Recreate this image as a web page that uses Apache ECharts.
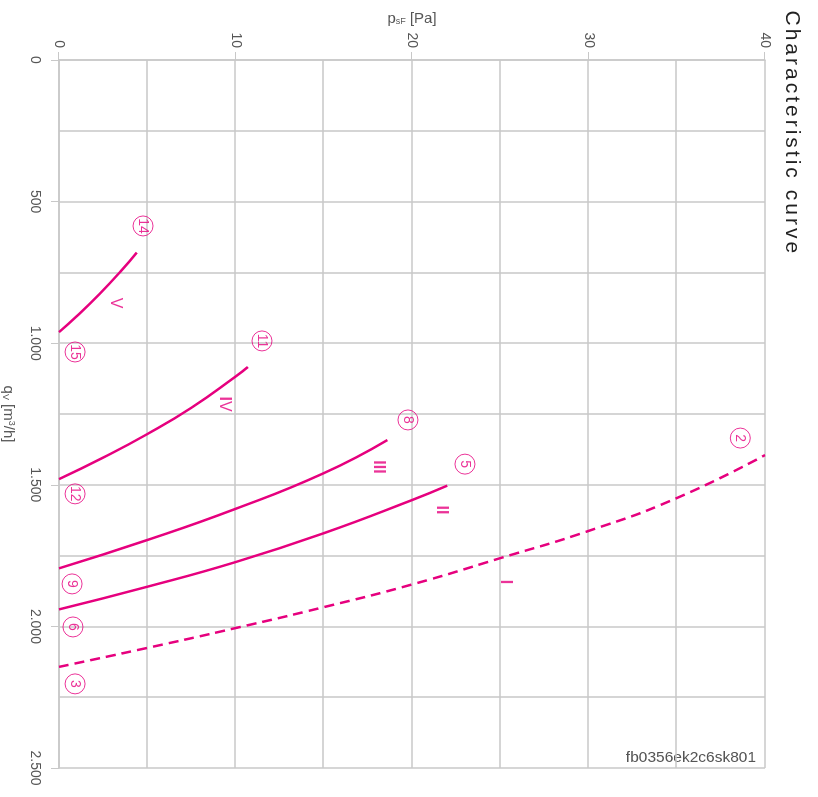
<!DOCTYPE html>
<html>
<head>
<meta charset="utf-8">
<script src="https://cdn.jsdelivr.net/npm/echarts@6/dist/echarts.min.js"></script>
<style>
html,body{margin:0;padding:0;background:#fff;overflow:hidden;}
#chart{position:absolute;left:0;top:0;width:797px;height:818px;transform-origin:0 0;transform:translate(818px,0) rotate(90deg);}
</style>
</head>
<body>
<div id="chart"></div>
<script>
// Characteristic curves: static pressure psF [Pa] vs. volume flow qV [m3/h]
var curveI_psF   = [0, 5, 10, 15, 20, 25, 30, 35, 40];
var curveI_qV    = [2143, 2076, 2006, 1932, 1852, 1759, 1663, 1547, 1395];
var curveII_psF  = [0, 5, 10, 15, 20, 22];
var curveII_qV   = [1940, 1860, 1773, 1671, 1554, 1503];
var curveIII_psF = [0, 5, 10, 15, 18.6];
var curveIII_qV  = [1795, 1695, 1585, 1459, 1342];
var curveIV_psF  = [0, 2.5, 5, 7.5, 10, 10.7];
var curveIV_qV   = [1480, 1404, 1321, 1228, 1118, 1084];
var curveV_psF   = [0, 1, 2.3, 3.5, 4.4];
var curveV_qV    = [961, 905, 826, 746, 680];

// point markers (circled numbers)
var markerText = ['14', '15', '11', '12', '8', '9', '5', '6', '2', '3'];
var markerPsF  = [4.76, 0.91, 11.5, 0.91, 19.77, 0.74, 23.0, 0.79, 38.6, 0.91];
var markerQV   = [586, 1031, 992, 1532, 1271, 1850, 1427, 2002, 1335, 2203];

// curve names (roman numerals)
var romanText = ['V', 'IV', 'III', 'II', 'I'];
var romanPsF  = [3.17, 9.35, 18.07, 21.64, 25.3];
var romanQV   = [858, 1215, 1437, 1589, 1843];

var qvTicks = [0, 500, 1000, 1500, 2000, 2500];
var psfTicks = [0, 10, 20, 30, 40];

var MAG = '#e6007e';
var GRID = '#c8c8c8';
var FONT = 'Liberation Sans, Arial, sans-serif';
var TITLE = 'Characteristic curve';

function pairs(q, p) { return q.map(function (v, i) { return [v, p[i]]; }); }
function fmtThousand(v) {
  var s = String(Math.round(v));
  return s.replace(/\B(?=(\d{3})+(?!\d))/g, '.');
}
function curve(q, p, dashed) {
  return {
    type: 'line', smooth: true, showSymbol: false, silent: true,
    data: pairs(q, p),
    lineStyle: { color: MAG, width: 2.5, type: dashed ? [10, 6] : 'solid' },
    z: 3
  };
}
function romanRich(t) {
  return t.split('').map(function (c) { return (c === 'I' ? '{b|' : '{n|') + c + '}'; }).join('');
}
// letter-spaced title built from rich segments
var titleRich = TITLE.split('').map(function (c) { return '{c|' + (c === ' ' ? '\u00a0' : c) + '}'; }).join('');

var chart = echarts.init(document.getElementById('chart'), null, { renderer: 'canvas' });
chart.setOption({
  animation: false,
  backgroundColor: '#fff',
  title: {
    text: titleRich, left: 4, top: 11,
    textStyle: {
      fontFamily: FONT, fontSize: 21, fontWeight: 'normal', color: '#222',
      rich: { c: { fontFamily: FONT, fontSize: 21, color: '#222', padding: [0, 1.5, 0, 1.5] } }
    }
  },
  grid: { left: 60, right: 29, top: 53, bottom: 59, containLabel: false, outerBoundsMode: 'none' },
  xAxis: {
    type: 'value', min: qvTicks[0], max: qvTicks[qvTicks.length - 1], interval: 500,
    name: '{q|q}{sub|V} [m{sup|3}/h]',
    nameLocation: 'middle', nameGap: 43,
    nameTextStyle: {
      fontFamily: FONT, fontSize: 15, color: '#555',
      rich: {
        q: { fontFamily: FONT, fontSize: 15, color: '#555' },
        sub: { fontFamily: FONT, fontSize: 9, color: '#555', verticalAlign: 'bottom', padding: [6, 0, 0, 0] },
        sup: { fontFamily: FONT, fontSize: 9, color: '#555', verticalAlign: 'top', padding: [0, 0, 6, 0] }
      }
    },
    axisLine: { show: true, lineStyle: { color: GRID, width: 1.5 } },
    axisTick: { show: true, length: 8, lineStyle: { color: GRID } },
    axisLabel: { margin: 17, fontFamily: FONT, fontSize: 14, color: '#555', formatter: fmtThousand },
    splitLine: { show: true, lineStyle: { color: GRID, width: 1.5 } },
    minorTick: { show: false, splitNumber: 2 },
    minorSplitLine: { show: true, lineStyle: { color: GRID, width: 1.5 } }
  },
  yAxis: {
    type: 'value', min: psfTicks[0], max: psfTicks[psfTicks.length - 1], interval: 10,
    name: '{p|p}{sub|sF} [Pa]',
    nameLocation: 'middle', nameGap: 34, nameRotate: 90, nameMoveOverlap: false,
    nameTextStyle: {
      fontFamily: FONT, fontSize: 15, color: '#555',
      rich: {
        p: { fontFamily: FONT, fontSize: 15, color: '#555' },
        sub: { fontFamily: FONT, fontSize: 9, color: '#555', verticalAlign: 'bottom', padding: [6, 0, 0, 0] }
      }
    },
    axisLine: { show: true, lineStyle: { color: GRID, width: 1.5 } },
    axisTick: { show: true, length: 8, lineStyle: { color: GRID } },
    axisLabel: { margin: 12, fontFamily: FONT, fontSize: 14, color: '#555' },
    splitLine: { show: true, lineStyle: { color: GRID, width: 1.5 } },
    minorTick: { show: false, splitNumber: 2 },
    minorSplitLine: { show: true, lineStyle: { color: GRID, width: 1.5 } }
  },
  graphic: [{
    type: 'text', left: 750, top: 62, rotation: Math.PI / 2,
    style: { text: 'fb0356ek2c6sk801', font: '15.5px ' + FONT, fill: '#555' }
  }],
  series: [
    curve(curveI_qV, curveI_psF, true),
    curve(curveII_qV, curveII_psF, false),
    curve(curveIII_qV, curveIII_psF, false),
    curve(curveIV_qV, curveIV_psF, false),
    curve(curveV_qV, curveV_psF, false),
    {
      type: 'scatter', silent: true, z: 4,
      symbol: 'circle', symbolSize: 20,
      itemStyle: { color: 'rgba(255,255,255,0)', borderColor: MAG, borderWidth: 1 },
      label: {
        show: true, position: 'inside', color: MAG, fontFamily: FONT, fontSize: 14,
        formatter: function (p) { return p.data[2]; }
      },
      data: markerText.map(function (t, i) { return [markerQV[i], markerPsF[i], t]; })
    },
    {
      type: 'scatter', silent: true, z: 4,
      symbol: 'circle', symbolSize: 1,
      itemStyle: { color: 'rgba(255,255,255,0)' },
      label: {
        show: true, position: 'inside', color: MAG, fontFamily: FONT, fontSize: 16,
        formatter: function (p) { return romanRich(p.data[2]); },
        rich: {
          b: { fontFamily: FONT, fontSize: 16, fontWeight: 'bold', color: MAG },
          n: { fontFamily: FONT, fontSize: 16, color: MAG }
        }
      },
      data: romanText.map(function (t, i) { return [romanQV[i], romanPsF[i], t]; })
    }
  ]
});
</script>
</body>
</html>
